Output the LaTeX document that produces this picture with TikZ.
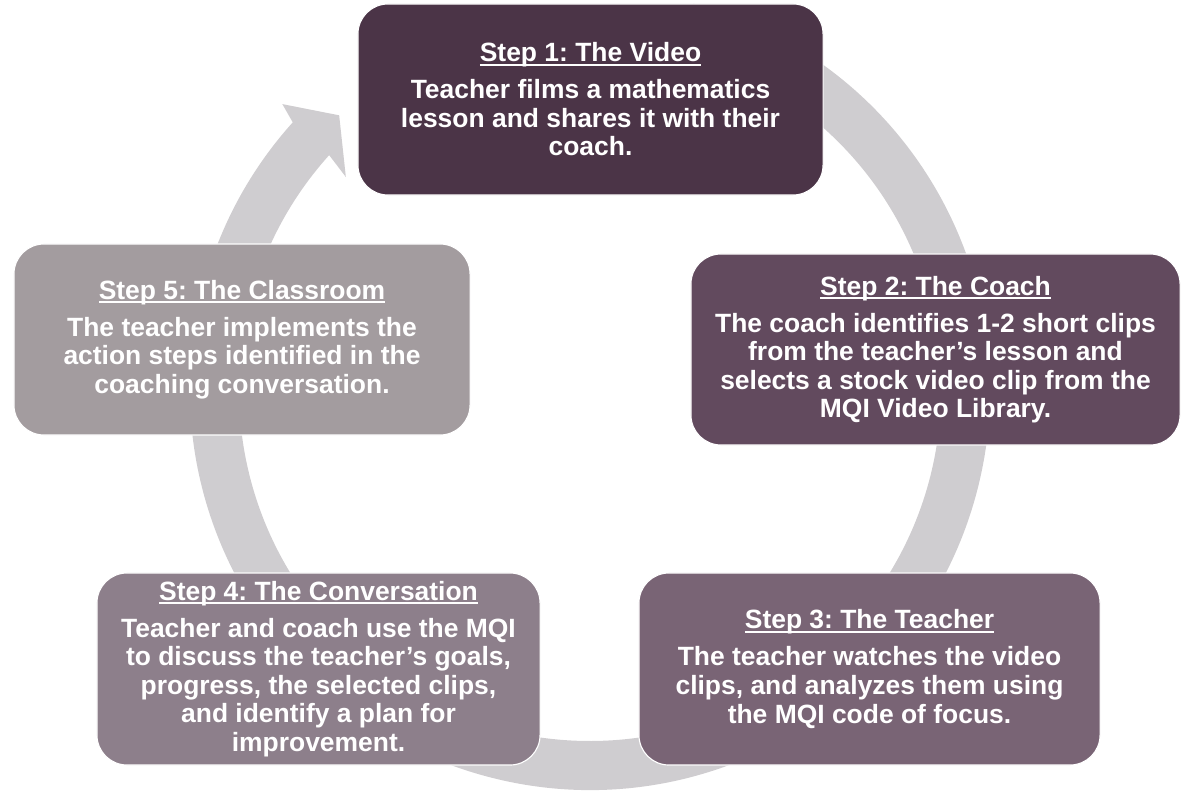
\documentclass[tikz,border=0pt]{standalone}
\usepackage{fontspec}
\setmainfont{Liberation Sans}
\usetikzlibrary{calc, positioning}

\definecolor{plumA}{HTML}{4B3447}
\definecolor{plumB}{HTML}{624A5E}
\definecolor{plumC}{HTML}{796475}
\definecolor{plumD}{HTML}{8D7F8B}
\definecolor{plumE}{HTML}{A39C9F}
\definecolor{ringgray}{HTML}{CFCDD0}

\newcommand\bodysize{\fontsize{18.8}{20.3}\selectfont\bfseries\frenchspacing}
\newcommand\steptitle[1]{{\sbox0{#1}\rlap{\rule[-2.8pt]{\wd0}{1.4pt}}\usebox0}}

\tikzset{
    stepbox/.style={draw=white, line width=0.8pt, rounded corners=0.75cm,
        fill=#1, text=white, align=center, inner sep=0pt, font=\bodysize},
    ring/.style={fill=ringgray, draw=none}
}

\begin{document}
\begin{tikzpicture}[x=0.025cm, y=0.025cm]
    \useasboundingbox (0,0) rectangle (1182,-793);
    \def \Ro {400}
    \def \Ri {351}
    \coordinate (c) at (590,-390);
    % circular arrow behind the boxes
    \fill[ring] ($(c)+(75:\Ro)$) arc[start angle=75, end angle=-222, radius=\Ro]
        -- ($(c)+(137.1:420)$) -- ($(c)+(132.4:372)$) -- ($(c)+(138.9:324)$)
        -- ($(c)+(138:\Ri)$) arc[start angle=-222, end angle=75, radius=\Ri] -- cycle;

    \node[stepbox=plumA, minimum width=11.625cm, minimum height=4.775cm] (video) at (590.5,-99.5)
        {\steptitle{Step 1: The Video}\\[6pt]
         Teacher films a mathematics\\lesson and shares it with their\\coach.};
    \node[stepbox=plumB, minimum width=12.225cm, minimum height=4.775cm] (coach) at (935.5,-349.5)
        {\steptitle{Step 2: The Coach}\\[6pt]
         The coach identifies 1-2 short clips\\from the teacher’s lesson and\\selects a stock video clip from the\\MQI Video Library.};
    \node[stepbox=plumC, minimum width=11.525cm, minimum height=4.8cm] (teacher) at (869.5,-669)
        {\steptitle{Step 3: The Teacher}\\[6pt]
         The teacher watches the video\\clips, and analyzes them using\\the MQI code of focus.};
    \node[stepbox=plumD, minimum width=11.075cm, minimum height=4.8cm] (talk) at (318.5,-669)
        {\steptitle{Step 4: The Conversation}\\[6pt]
         Teacher and coach use the MQI\\to discuss the teacher’s goals,\\progress, the selected clips,\\and identify a plan for\\improvement.};
    \node[stepbox=plumE, minimum width=11.4cm, minimum height=4.775cm] (room) at (242,-339.5)
        {\steptitle{Step 5: The Classroom}\\[6pt]
         The teacher implements the\\action steps identified in the\\coaching conversation.};
\end{tikzpicture}
\end{document}
